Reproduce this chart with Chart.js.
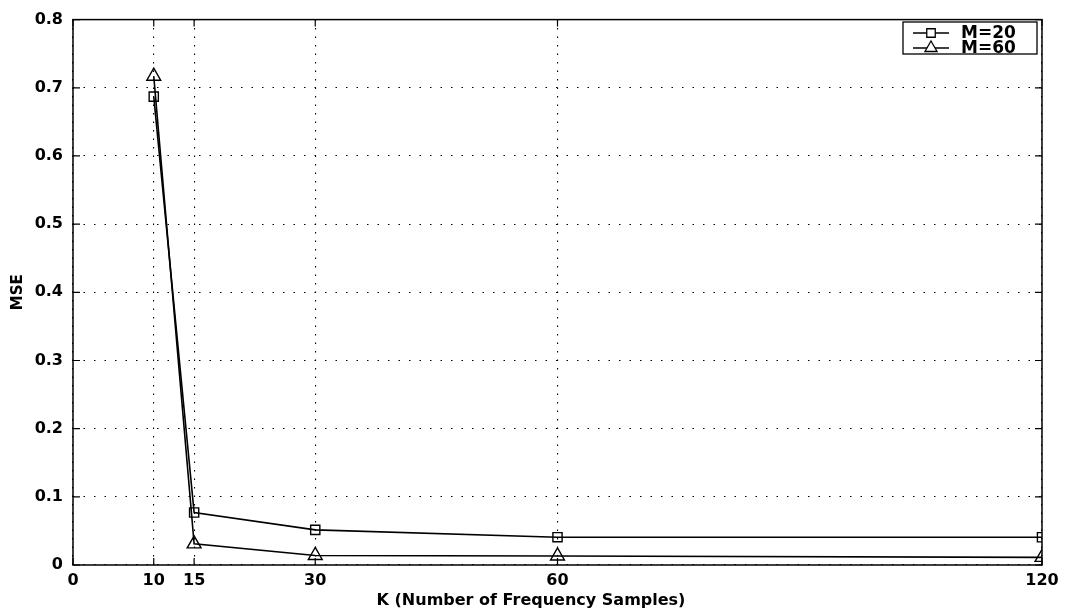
<!DOCTYPE html>
<html>
<head>
<meta charset="utf-8">
<title>MSE vs K</title>
<script src="https://cdn.jsdelivr.net/npm/chart.js@4/dist/chart.umd.min.js"></script>
<style>
  html, body { margin: 0; padding: 0; background: #fff; }
  canvas { display: block; }
</style>
</head>
<body>
<canvas id="canvas" width="1065" height="612"></canvas>
<script>
// K = number of frequency samples
const kValues = [10, 15, 30, 60, 120];
const mseM20 = [0.687, 0.077, 0.0515, 0.0408, 0.0407];
const mseM60 = [0.717, 0.031, 0.0140, 0.0133, 0.0112];
const xTicks = [0, 10, 15, 30, 60, 120];
const yTicks = [0, 0.1, 0.2, 0.3, 0.4, 0.5, 0.6, 0.7, 0.8];
const xLabel = 'K (Number of Frequency Samples)';

const FONT = '"DejaVu Sans", sans-serif';

const toPoints = (ys) => kValues.map((k, i) => ({ x: k, y: ys[i] }));

// box around the axes + inward ticks on all four sides
const axesBox = {
    id: 'axesBox',
    beforeDatasetsDraw(chart) {
        const { ctx, chartArea: a, scales } = chart;
        const len = 7;
        ctx.save();
        ctx.setLineDash([]);
        ctx.strokeStyle = '#000';
        ctx.lineWidth = 1.5;
        ctx.strokeRect(a.left, a.top, a.right - a.left, a.bottom - a.top);
        ctx.lineWidth = 1.2;
        ctx.beginPath();
        xTicks.forEach(v => {
            const x = scales.x.getPixelForValue(v);
            ctx.moveTo(x, a.bottom); ctx.lineTo(x, a.bottom - len);
            ctx.moveTo(x, a.top); ctx.lineTo(x, a.top + len);
        });
        yTicks.forEach(v => {
            const y = scales.y.getPixelForValue(v);
            ctx.moveTo(a.left, y); ctx.lineTo(a.left + len, y);
            ctx.moveTo(a.right, y); ctx.lineTo(a.right - len, y);
        });
        ctx.stroke();

        // x label sits a little left of the axes centre
        ctx.fillStyle = '#000';
        ctx.font = 'bold 16px ' + FONT;
        ctx.textAlign = 'center';
        ctx.textBaseline = 'middle';
        ctx.fillText(xLabel, 531, 601);
        ctx.restore();
    }
};

function marker(ctx, style, x, y, r) {
    ctx.beginPath();
    if (style === 'rect') {
        const s = r * Math.SQRT1_2;
        ctx.rect(x - s, y - s, 2 * s, 2 * s);
    } else {
        ctx.moveTo(x, y - r);
        ctx.lineTo(x + r * 0.866, y + r * 0.5);
        ctx.lineTo(x - r * 0.866, y + r * 0.5);
        ctx.closePath();
    }
    ctx.fillStyle = '#fff';
    ctx.fill();
    ctx.stroke();
}

// boxed legend in the top-right corner
const boxLegend = {
    id: 'boxLegend',
    afterDraw(chart) {
        const { ctx } = chart;
        const bx = 903, by = 22, bw = 134, bh = 32;
        ctx.save();
        ctx.setLineDash([]);
        ctx.fillStyle = '#fff';
        ctx.fillRect(bx, by, bw, bh);
        ctx.strokeStyle = '#000';
        ctx.lineWidth = 1.3;
        ctx.strokeRect(bx, by, bw, bh);
        chart.data.datasets.forEach((ds, i) => {
            const y = by + 11 + i * 15;
            ctx.lineWidth = 1.3;
            ctx.beginPath();
            ctx.moveTo(bx + 10, y);
            ctx.lineTo(bx + 46, y);
            ctx.stroke();
            marker(ctx, ds.pointStyle, bx + 28, y, ds.pointStyle === 'rect' ? 6 : 7);
            ctx.fillStyle = '#000';
            ctx.font = 'bold 17px ' + FONT;
            ctx.textBaseline = 'middle';
            ctx.fillText(ds.label, bx + 58, y + 1);
        });
        ctx.restore();
    }
};

new Chart(document.getElementById('canvas'), {
    type: 'scatter',
    data: {
        datasets: [{
            label: 'M=20',
            data: toPoints(mseM20),
            showLine: true,
            borderColor: '#000',
            borderWidth: 1.6,
            pointStyle: 'rect',
            pointRadius: 6.5,
            pointBorderWidth: 1.4,
            pointBackgroundColor: 'rgba(255,255,255,0)',
            pointBorderColor: '#000'
        },
        {
            label: 'M=60',
            data: toPoints(mseM60),
            showLine: true,
            borderColor: '#000',
            borderWidth: 1.6,
            pointStyle: 'triangle',
            pointRadius: 8,
            pointBorderWidth: 1.4,
            pointBackgroundColor: 'rgba(255,255,255,0)',
            pointBorderColor: '#000'
        }]
    },
    options: {
        responsive: false,
        animation: false,
        devicePixelRatio: 1,
        layout: {
            padding: { left: 0, top: 15, right: 23, bottom: 0 }
        },
        plugins: {
            legend: { display: false },
            tooltip: { enabled: false }
        },
        scales: {
            x: {
                type: 'linear',
                min: 0,
                max: 120,
                afterBuildTicks: (scale) => { scale.ticks = xTicks.map(v => ({ value: v })); },
                afterFit: (scale) => { scale.height = 47; },
                // in v4 the border dash applies to the grid lines: MATLAB-like dots
                border: { display: false, dash: [1.5, 7] },
                grid: {
                    color: '#000',
                    lineWidth: 1.1,
                    drawTicks: false
                },
                ticks: {
                    color: '#000',
                    padding: 6,
                    maxRotation: 0,
                    autoSkip: false,
                    font: { family: FONT, size: 16, weight: 'bold' }
                }
            },
            y: {
                min: 0,
                max: 0.8,
                afterBuildTicks: (scale) => { scale.ticks = yTicks.map(v => ({ value: v })); },
                afterFit: (scale) => { scale.width = 73; },
                border: { display: false, dash: [1.5, 9] },
                grid: {
                    color: '#000',
                    lineWidth: 1.1,
                    drawTicks: false
                },
                ticks: {
                    color: '#000',
                    padding: 10,
                    autoSkip: false,
                    font: { family: FONT, size: 16, weight: 'bold' },
                    callback: (v) => v === 0 ? '0' : v.toFixed(1)
                },
                title: {
                    display: true,
                    text: 'MSE',
                    color: '#000',
                    padding: { top: 9, bottom: 2 },
                    font: { family: FONT, size: 15, weight: 'bold' }
                }
            }
        }
    },
    plugins: [axesBox, boxLegend]
});
</script>
</body>
</html>
